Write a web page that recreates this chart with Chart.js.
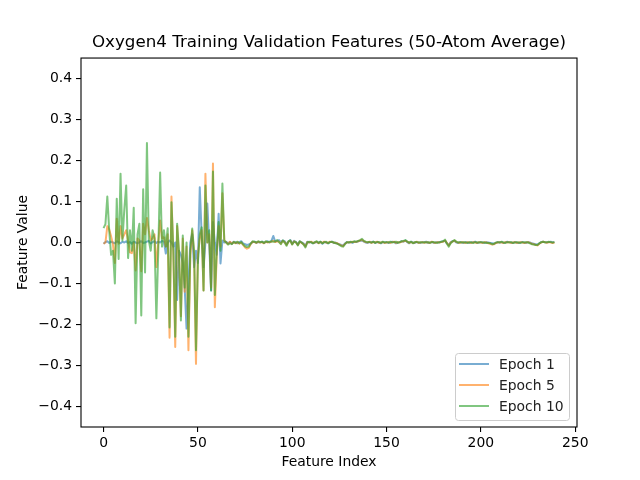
<!DOCTYPE html>
<html>
<head>
<meta charset="utf-8">
<script src="https://cdn.jsdelivr.net/npm/chart.js@4.4.1/dist/chart.umd.min.js"></script>
<style>
  html, body { margin: 0; padding: 0; background: #fff; }
  #chart { display: block; }
</style>
</head>
<body>
<canvas id="chart" width="640" height="480"></canvas>
<script>
// values, one row per 10 feature indices
const epoch1 = [
  -0.003, 0.001, 0.003, -0.001, 0.002, 0.000, -0.002, 0.003, 0.001, -0.002,
  0.002, 0.000, 0.003, -0.001, 0.001, -0.003, 0.002, 0.000, -0.002, 0.001,
  0.003, -0.001, 0.000, 0.002, 0.004, -0.002, 0.001, 0.003, -0.001, 0.002,
  0.000, 0.004, 0.002, -0.027, 0.000, 0.005, 0.000, -0.010, 0.000, -0.140,
  -0.020, -0.030, -0.050, -0.110, -0.210, -0.100, 0.000, 0.020, -0.060, -0.020,
  -0.050, 0.135, 0.020, -0.060, 0.000, 0.095, 0.000, -0.117, 0.050, 0.000,
  -0.030, 0.070, -0.051, 0.005, 0.000, 0.002, -0.002, 0.001, -0.003, 0.002,
  0.000, -0.002, 0.001, 0.003, -0.002, -0.004, -0.006, -0.005, -0.002, 0.001,
  0.002, -0.001, 0.001, 0.000, 0.002, -0.001, 0.001, 0.003, 0.000, 0.004,
  0.016, 0.002, 0.004, 0.006, 0.001, 0.005, 0.003, -0.004, 0.002, 0.006,
  -0.003, 0.004, 0.001, -0.005, 0.003, 0.000, -0.002, -0.008, 0.002, 0.000,
  0.001, -0.002, 0.000, 0.001, -0.001, 0.002, -0.003, 0.001, 0.000, -0.002,
  0.001, 0.002, -0.001, 0.000, -0.003, -0.004, -0.006, -0.007, -0.002, 0.001,
  0.000, 0.001, -0.001, 0.002, 0.001, 0.003, 0.004, 0.005, 0.002, 0.000,
  -0.001, 0.001, 0.000, 0.002, -0.001, 0.001, 0.000, -0.002, 0.001, 0.000,
  0.001, -0.001, 0.000, 0.002, 0.001, -0.002, 0.000, 0.001, 0.003, 0.002,
  0.005, 0.001, -0.002, 0.002, 0.000, -0.001, 0.001, 0.000, -0.001, 0.001,
  0.000, 0.002, -0.001, 0.000, 0.001, -0.001, 0.000, 0.001, 0.000, 0.002,
  0.003, 0.004, -0.002, -0.006, 0.001, 0.003, 0.004, 0.000, -0.001, 0.001,
  0.000, -0.001, 0.001, 0.000, -0.001, 0.001, 0.000, 0.002, -0.001, 0.000,
  0.001, 0.000, -0.001, 0.001, 0.000, -0.001, -0.002, -0.003, -0.001, 0.001,
  0.000, 0.001, -0.001, 0.000, 0.002, 0.001, 0.000, -0.001, 0.001, 0.000,
  -0.001, 0.000, 0.001, 0.000, -0.001, 0.001, 0.000, -0.002, -0.003, -0.004,
  -0.005, -0.002, 0.001, 0.002, 0.001, 0.000, 0.001, 0.002, 0.000, 0.001,
];

const epoch5 = [
  -0.003, 0.000, 0.040, 0.032, 0.015, -0.005, -0.050, 0.058, -0.003, 0.040,
  0.010, 0.020, 0.030, 0.005, -0.024, -0.026, 0.000, -0.068, 0.010, 0.005,
  -0.070, 0.046, 0.020, 0.060, 0.030, 0.005, 0.010, 0.020, -0.060, 0.000,
  0.054, 0.010, 0.013, -0.010, 0.020, -0.232, 0.112, -0.030, -0.255, 0.040,
  -0.030, -0.180, 0.010, -0.120, -0.010, -0.263, -0.030, 0.030, -0.030, -0.296,
  -0.030, 0.010, 0.030, -0.117, 0.168, 0.000, 0.020, -0.110, 0.193, -0.158,
  -0.030, 0.040, -0.010, 0.120, 0.005, 0.000, -0.004, 0.002, -0.003, 0.001,
  -0.002, 0.001, -0.003, 0.000, -0.006, -0.012, -0.015, -0.013, -0.004, 0.002,
  0.001, -0.001, 0.002, 0.000, 0.001, -0.002, 0.002, 0.000, 0.001, 0.002,
  0.004, 0.001, 0.003, 0.002, -0.003, 0.004, 0.001, -0.006, 0.002, 0.004,
  -0.004, 0.003, 0.000, -0.006, 0.002, -0.001, -0.004, -0.010, 0.001, 0.000,
  0.002, -0.001, 0.000, 0.002, -0.002, 0.001, -0.001, 0.002, 0.000, -0.001,
  0.002, 0.001, 0.000, -0.001, -0.002, -0.005, -0.007, -0.009, -0.003, 0.000,
  0.001, 0.000, 0.002, 0.001, 0.002, 0.003, 0.005, 0.007, 0.003, 0.001,
  0.000, 0.002, -0.001, 0.001, 0.000, 0.002, -0.001, 0.000, 0.001, -0.001,
  0.000, 0.001, -0.001, 0.001, 0.002, -0.001, 0.001, 0.000, 0.002, 0.003,
  0.004, 0.002, -0.001, 0.001, -0.001, 0.000, 0.002, -0.001, 0.000, 0.001,
  -0.001, 0.001, 0.000, -0.001, 0.002, 0.000, -0.001, 0.001, 0.000, 0.001,
  0.002, 0.005, -0.001, -0.008, 0.000, 0.002, 0.005, 0.001, 0.000, -0.001,
  0.001, 0.000, -0.001, 0.001, 0.000, -0.001, 0.001, 0.000, -0.001, 0.001,
  0.000, -0.001, 0.001, 0.000, -0.002, -0.003, -0.005, -0.004, -0.001, 0.000,
  0.001, 0.000, -0.001, 0.001, 0.000, 0.001, -0.001, 0.000, 0.001, -0.001,
  0.000, 0.001, 0.000, -0.001, 0.000, 0.001, -0.001, -0.003, -0.004, -0.006,
  -0.007, -0.003, 0.000, 0.002, 0.001, -0.001, 0.001, 0.000, -0.001, 0.000,
];

const epoch10 = [
  0.035, 0.045, 0.112, 0.030, -0.030, -0.020, -0.100, 0.107, -0.040, 0.168,
  0.005, 0.080, 0.139, -0.038, 0.030, -0.020, 0.085, -0.197, 0.020, 0.046,
  -0.178, 0.130, -0.073, 0.243, 0.005, -0.020, 0.030, 0.010, -0.185, -0.020,
  0.171, -0.010, 0.030, -0.010, 0.035, -0.207, 0.098, -0.020, -0.230, 0.046,
  -0.020, -0.190, 0.017, -0.110, 0.000, -0.230, -0.020, 0.034, -0.020, -0.263,
  -0.050, 0.020, 0.037, -0.117, 0.139, 0.000, 0.030, -0.117, 0.173, -0.128,
  -0.020, 0.050, -0.020, 0.144, 0.005, 0.000, -0.005, -0.002, -0.004, 0.001,
  -0.001, 0.002, -0.002, 0.001, -0.005, -0.009, -0.011, -0.010, -0.003, 0.003,
  0.002, 0.000, 0.003, 0.001, 0.002, -0.001, 0.003, 0.001, 0.002, 0.003,
  0.002, 0.003, 0.006, 0.001, -0.004, 0.005, 0.000, -0.008, 0.003, 0.005,
  -0.005, 0.002, 0.001, -0.007, 0.003, 0.000, -0.005, -0.012, 0.000, 0.002,
  0.001, -0.002, 0.001, 0.003, -0.001, 0.002, -0.002, 0.001, 0.002, -0.002,
  0.001, 0.002, 0.000, -0.002, -0.003, -0.006, -0.009, -0.010, -0.004, 0.001,
  0.000, 0.002, 0.001, 0.003, 0.002, 0.004, 0.006, 0.009, 0.004, 0.002,
  0.001, 0.001, 0.000, 0.002, -0.001, 0.001, 0.001, -0.001, 0.002, 0.000,
  0.001, 0.000, 0.002, 0.000, 0.001, 0.002, -0.001, 0.001, 0.003, 0.004,
  0.006, 0.002, 0.000, 0.002, -0.002, 0.001, 0.001, 0.000, 0.001, 0.000,
  0.001, 0.000, 0.001, -0.001, 0.001, 0.001, 0.000, -0.001, 0.001, 0.002,
  0.003, 0.007, -0.003, -0.010, -0.002, 0.003, 0.006, 0.002, 0.000, 0.001,
  0.000, 0.001, 0.000, -0.001, 0.001, 0.000, -0.001, 0.001, 0.000, 0.000,
  0.001, 0.000, 0.000, -0.001, -0.001, -0.002, -0.004, -0.003, 0.000, 0.001,
  0.000, 0.002, 0.000, -0.001, 0.001, 0.000, 0.001, -0.001, 0.000, 0.001,
  0.000, -0.001, 0.001, 0.000, 0.001, 0.000, -0.002, -0.004, -0.005, -0.006,
  -0.006, -0.002, 0.001, 0.002, 0.000, 0.001, 0.002, 0.001, 0.000, 0.001,
];

const seriesNames = ["Epoch 1", "Epoch 5", "Epoch 10"];
const seriesValues = [epoch1, epoch5, epoch10];
const seriesColors = ["rgba(31,119,180,0.6)", "rgba(255,127,14,0.6)", "rgba(44,160,44,0.6)"];
const xTicks = [0, 50, 100, 150, 200, 250];
const yTicks = [-0.4, -0.3, -0.2, -0.1, 0.0, 0.1, 0.2, 0.3, 0.4];

const FONT = "'DejaVu Sans', sans-serif";
const featureIndex = epoch1.map((_, i) => i);

const fmtNum = (v, digits) => v.toFixed(digits).replace("-", "\u2212");

// matplotlib-style closed frame around the axes
const framePlugin = {
  id: "frame",
  afterDatasetsDraw(chart) {
    const { ctx, chartArea: a } = chart;
    ctx.save();
    ctx.strokeStyle = "#000";
    ctx.lineWidth = 1.1;
    ctx.strokeRect(a.left, a.top, a.right - a.left, a.bottom - a.top);
    ctx.restore();
  },
};

// framed legend in the lower right corner of the axes
const boxLegendPlugin = {
  id: "boxLegend",
  afterDraw(chart) {
    const { ctx, chartArea: a } = chart;
    const right = a.right - 8;
    const bottom = a.bottom - 7;
    const w = 114, h = 67;
    const left = right - w, top = bottom - h;
    ctx.save();
    ctx.beginPath();
    ctx.roundRect(left + 0.5, top + 0.5, w, h, 3);
    ctx.fillStyle = "rgba(255,255,255,0.8)";
    ctx.fill();
    ctx.strokeStyle = "#cccccc";
    ctx.lineWidth = 1;
    ctx.stroke();
    ctx.font = "13.9px " + FONT;
    ctx.textBaseline = "middle";
    chart.data.datasets.forEach((ds, i) => {
      const y = top + 11 + i * 21;
      ctx.beginPath();
      ctx.moveTo(left + 4, y);
      ctx.lineTo(left + 34, y);
      ctx.strokeStyle = ds.borderColor;
      ctx.lineWidth = 2;
      ctx.stroke();
      ctx.fillStyle = "#222";
      ctx.fillText(ds.label, left + 44, y + 1);
    });
    ctx.restore();
  },
};

new Chart(document.getElementById("chart").getContext("2d"), {
  type: "line",
  data: {
    datasets: seriesNames.map((name, i) => ({
      label: name,
      data: seriesValues[i].map((v, k) => ({ x: featureIndex[k], y: v })),
      borderColor: seriesColors[i],
      backgroundColor: seriesColors[i],
      borderWidth: 2,
      borderJoinStyle: "round",
      pointRadius: 0,
      tension: 0,
      fill: false,
      order: seriesNames.length - 1 - i,
    })),
  },
  options: {
    responsive: false,
    animation: false,
    devicePixelRatio: 1,
    layout: { padding: { top: 0, right: 63, bottom: 0, left: 0 } },
    plugins: {
      legend: { display: false },
      tooltip: { enabled: false },
      title: {
        display: true,
        text: "Oxygen4 Training Validation Features (50-Atom Average)",
        color: "#000",
        fullSize: false,
        font: { family: FONT, size: 16.7, weight: "normal" },
        padding: { top: 33, bottom: 5 },
      },
    },
    scales: {
      x: {
        type: "linear",
        min: -11.95,
        max: 250.95,
        afterBuildTicks: (scale) => { scale.ticks = xTicks.map((v) => ({ value: v })); },
        afterFit: (scale) => { scale.height = 53; },
        ticks: {
          color: "#000",
          padding: 3,
          maxRotation: 0,
          font: { family: FONT, size: 13.9 },
          callback: (v) => String(v),
        },
        grid: { drawOnChartArea: false, drawTicks: true, tickLength: 5, color: "#000", lineWidth: 1.1 },
        border: { display: false },
        title: {
          display: true,
          text: "Feature Index",
          color: "#000",
          font: { family: FONT, size: 13.9 },
          padding: { top: 0, bottom: 9 },
        },
      },
      y: {
        type: "linear",
        min: -0.45,
        max: 0.45,
        afterBuildTicks: (scale) => { scale.ticks = yTicks.map((v) => ({ value: v })); },
        afterFit: (scale) => { scale.width = 81; },
        ticks: {
          color: "#000",
          padding: 4,
          font: { family: FONT, size: 13.9 },
          callback: (v) => fmtNum(v, 1),
        },
        grid: { drawOnChartArea: false, drawTicks: true, tickLength: 5, color: "#000", lineWidth: 1.1 },
        border: { display: false },
        title: {
          display: true,
          text: "Feature Value",
          color: "#000",
          font: { family: FONT, size: 13.9 },
          padding: { top: 15, bottom: 0 },
        },
      },
    },
  },
  plugins: [framePlugin, boxLegendPlugin],
});
</script>
</body>
</html>
